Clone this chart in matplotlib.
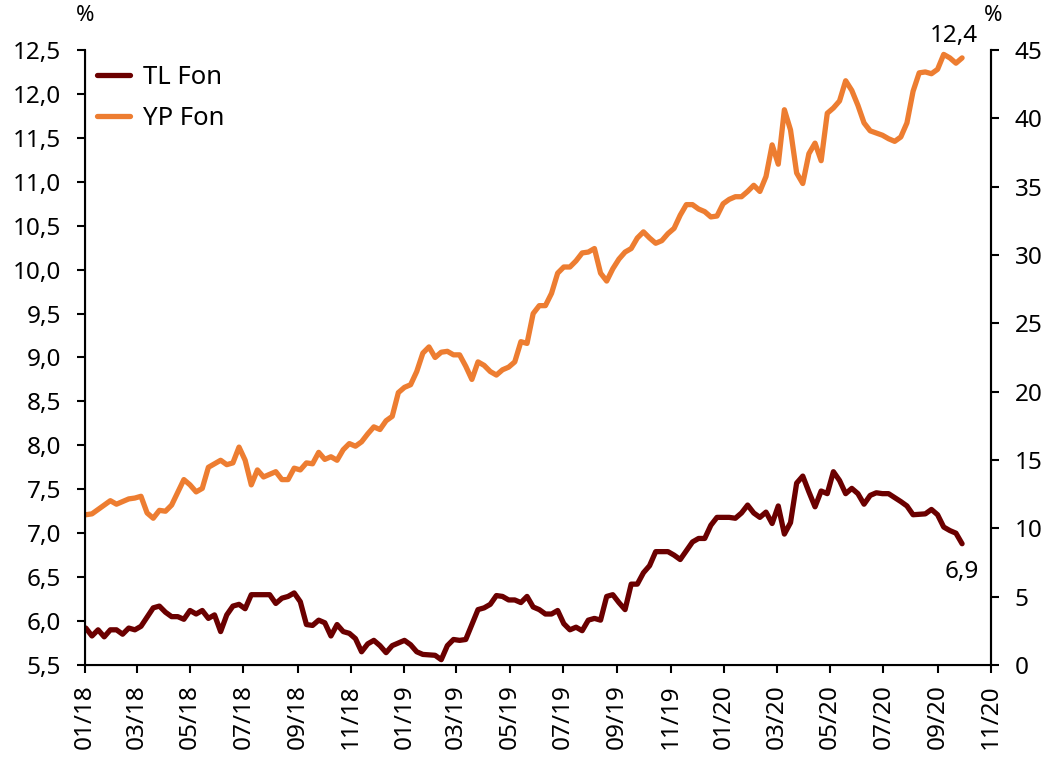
import pandas as pd
import matplotlib.pyplot as plt
import matplotlib.dates as mdates
from matplotlib.ticker import FuncFormatter

plt.rcParams['font.family'] = ['Noto Sans', 'DejaVu Sans']

# haftalik veriler, hafta numarasi 0 = 2018-01-02
start = pd.Timestamp('2018-01-02')

tl_weeks = [0, 1, 2, 3, 4, 5, 6, 7, 8, 9, 11, 12, 13, 14, 15, 16, 17, 18, 19, 20,
            21, 22, 23, 24, 25, 26, 27, 28, 30, 31, 32, 33, 34, 35, 36, 37, 38, 39, 40, 41,
            42, 43, 44, 45, 46, 47, 48, 49, 50, 51, 52, 53, 54, 55, 57, 58, 59, 60, 61, 62,
            64, 65, 66, 67, 68, 69, 70, 71, 72, 73, 74, 75, 76, 77, 78, 79, 80, 81, 82, 83,
            84, 85, 86, 87, 88, 89, 90, 91, 92, 93, 95, 96, 97, 98, 99, 100, 101, 102, 103, 105,
            106, 107, 108, 109, 110, 111, 112, 113, 114, 115, 116, 117, 118, 119, 120, 121, 122, 123, 124, 125,
            126, 127, 128, 129, 130, 131, 133, 134, 135, 137, 138, 139, 140, 141, 142, 143]
tl_fon = [5.92, 5.83, 5.90, 5.82, 5.90, 5.90, 5.85, 5.92, 5.90, 5.94, 6.15, 6.17, 6.10, 6.05, 6.05, 6.02, 6.12, 6.08, 6.12, 6.03,
          6.07, 5.88, 6.07, 6.17, 6.19, 6.14, 6.30, 6.30, 6.30, 6.20, 6.26, 6.28, 6.32, 6.22, 5.96, 5.95, 6.01, 5.98, 5.83, 5.96,
          5.88, 5.86, 5.80, 5.65, 5.74, 5.78, 5.72, 5.64, 5.72, 5.75, 5.78, 5.73, 5.65, 5.62, 5.61, 5.56, 5.72, 5.79, 5.78, 5.79,
          6.13, 6.15, 6.19, 6.29, 6.28, 6.24, 6.24, 6.21, 6.28, 6.16, 6.13, 6.08, 6.08, 6.12, 5.97, 5.90, 5.93, 5.89, 6.01, 6.03,
          6.01, 6.28, 6.30, 6.21, 6.13, 6.42, 6.42, 6.55, 6.63, 6.79, 6.79, 6.75, 6.70, 6.80, 6.90, 6.94, 6.94, 7.09, 7.18, 7.18,
          7.17, 7.23, 7.32, 7.23, 7.18, 7.24, 7.11, 7.31, 6.99, 7.12, 7.57, 7.65, 7.47, 7.30, 7.48, 7.45, 7.70, 7.60, 7.45, 7.51,
          7.45, 7.33, 7.43, 7.46, 7.45, 7.45, 7.36, 7.31, 7.21, 7.22, 7.27, 7.21, 7.07, 7.03, 7.00, 6.88]

yp_weeks = [0, 1, 2, 4, 5, 7, 8, 9, 10, 11, 12, 13, 14, 16, 17, 18, 19, 20, 21, 22,
            23, 24, 25, 26, 27, 28, 29, 30, 31, 32, 33, 34, 35, 36, 37, 38, 39, 40, 41, 42,
            43, 44, 45, 46, 47, 48, 49, 50, 51, 52, 53, 54, 55, 56, 57, 58, 59, 60, 61, 62,
            63, 64, 65, 66, 67, 68, 69, 70, 71, 72, 73, 74, 75, 76, 77, 78, 79, 80, 81, 82,
            83, 84, 85, 86, 87, 88, 89, 90, 91, 92, 93, 94, 95, 96, 97, 98, 99, 100, 101, 102,
            103, 104, 105, 106, 107, 108, 109, 110, 111, 112, 113, 114, 115, 116, 117, 118, 119, 120, 121, 122,
            123, 124, 125, 126, 127, 128, 130, 131, 132, 133, 134, 135, 136, 137, 138, 139, 140, 141, 142, 143]
yp_fon = [7.21, 7.22, 7.27, 7.37, 7.33, 7.39, 7.40, 7.42, 7.23, 7.17, 7.26, 7.25, 7.32, 7.61, 7.55, 7.47, 7.51, 7.75, 7.79, 7.83,
          7.78, 7.80, 7.98, 7.83, 7.55, 7.72, 7.64, 7.67, 7.70, 7.61, 7.61, 7.74, 7.72, 7.80, 7.79, 7.92, 7.84, 7.87, 7.83, 7.95,
          8.02, 7.99, 8.04, 8.13, 8.21, 8.18, 8.28, 8.33, 8.60, 8.66, 8.69, 8.84, 9.05, 9.12, 9.00, 9.06, 9.07, 9.03, 9.03, 8.90,
          8.75, 8.95, 8.91, 8.84, 8.80, 8.86, 8.89, 8.95, 9.18, 9.16, 9.50, 9.59, 9.59, 9.73, 9.96, 10.03, 10.03, 10.10, 10.19, 10.20,
          10.24, 9.96, 9.87, 10.01, 10.12, 10.20, 10.24, 10.36, 10.43, 10.36, 10.30, 10.33, 10.41, 10.47, 10.62, 10.74, 10.74, 10.69, 10.66, 10.60,
          10.61, 10.75, 10.80, 10.83, 10.83, 10.89, 10.96, 10.89, 11.06, 11.42, 11.20, 11.82, 11.59, 11.10, 10.98, 11.32, 11.44, 11.24, 11.78, 11.84,
          11.92, 12.15, 12.04, 11.87, 11.67, 11.58, 11.53, 11.49, 11.46, 11.51, 11.67, 12.03, 12.24, 12.25, 12.23, 12.28, 12.45, 12.41, 12.35, 12.41]

tl_dates = start + pd.to_timedelta([w * 7 for w in tl_weeks], unit='D')
yp_dates = start + pd.to_timedelta([w * 7 for w in yp_weeks], unit='D')

tl_color = '#6B0000'
yp_color = '#ED7D31'

fig = plt.figure(figsize=(10.45, 7.61), dpi=100)
ax = fig.add_axes([0.0813, 0.1262, 0.867, 0.8081])

ax.plot(tl_dates, tl_fon, color=tl_color, lw=3.8, label='TL Fon', solid_capstyle='round')
ax.plot(yp_dates, yp_fon, color=yp_color, lw=3.8, label='YP Fon', solid_capstyle='round')

ax.set_xlim(pd.Timestamp('2018-01-01'), pd.Timestamp('2020-11-01'))
ax.set_ylim(5.5, 12.5)
ax.set_yticks([5.5 + 0.5 * i for i in range(15)])
ax.yaxis.set_major_formatter(FuncFormatter(lambda v, p: f'{v:.1f}'.replace('.', ',')))
ax.xaxis.set_major_locator(mdates.MonthLocator(bymonth=[1, 3, 5, 7, 9, 11]))
ax.xaxis.set_major_formatter(mdates.DateFormatter('%m/%y'))

ax.spines['top'].set_visible(False)
for s in ['left', 'bottom', 'right']:
    ax.spines[s].set_linewidth(1.5)
ax.tick_params(axis='y', labelsize=17.5, length=6, width=1.5, pad=11)
ax.tick_params(axis='x', labelsize=17.5, length=6, width=1.5, pad=8, labelrotation=90)

# sag eksen
ax2 = ax.twinx()
ax2.set_ylim(0, 45)
ax2.set_yticks(range(0, 50, 5))
ax2.spines['top'].set_visible(False)
ax2.spines['right'].set_linewidth(1.5)
ax2.tick_params(axis='y', labelsize=17.5, length=6, width=1.5, pad=11)

fig.text(0.0813, 0.980, '%', fontsize=16, ha='center', va='center')
fig.text(0.950, 0.980, '%', fontsize=16, ha='center', va='center')

ax.annotate('12,4', (yp_dates[-1], yp_fon[-1]), xytext=(-6, 7), textcoords='offset points',
            ha='center', va='bottom', fontsize=17.5)
ax.annotate('6,9', (tl_dates[-1], tl_fon[-1]), xytext=(0, -12), textcoords='offset points',
            ha='center', va='top', fontsize=17.5)

leg = ax.legend(loc='upper left', frameon=False, fontsize=18.5, handlelength=1.3,
                bbox_to_anchor=(0.013, 0.975), borderaxespad=0, borderpad=0,
                labelspacing=0.6, handletextpad=0.5)

fig.savefig('out.png', dpi=100)
